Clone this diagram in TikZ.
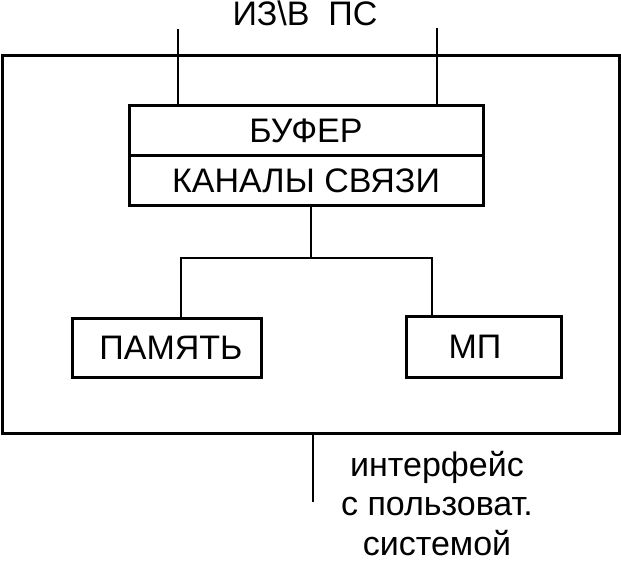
\documentclass[tikz,border=0pt]{standalone}
\usepackage{fontspec}
\setmainfont{Liberation Sans}
\usepackage{tikz}
\usetikzlibrary{positioning,calc}

\begin{document}
\begin{tikzpicture}[
				x=1pt,y=-1pt,
				line cap=butt,line join=miter,
				font=\fontsize{34}{39.5}\selectfont,
				blok/.style={draw=black, line width=3pt, rectangle, inner sep=0pt, outer sep=0pt},
				wire/.style={black, line width=2.8pt},
				thin/.style={black, line width=2pt}
				]
				% ---- parameters
				\def\bufW{354}      % buffer width
				\def\rowH{50}       % buffer row height
				
				% frame of picture
				\useasboundingbox (0,0) rectangle (621,562);
				
				% outer border (system)
				\node[blok, minimum width=617pt, minimum height=378.5pt] (sys) at (310.5,244.25) {};
				
				% buffer + channels
				\node[blok, minimum width=\bufW pt, minimum height=\rowH pt] (buf) at (306,130.5) {БУФЕР};
				\node[blok, minimum width=\bufW pt, minimum height=\rowH pt, below=0pt of buf] (kan) {КАНАЛЫ СВЯЗИ};
				
				% memory and processor
				\node[blok, minimum width=189pt, minimum height=59pt] (mem) at (167,347.5) {\hspace*{8pt}ПАМЯТЬ};
				\node[blok, minimum width=155pt, minimum height=61pt] (mp) at (484,346.5) {МП\hspace*{18pt}};
				
				% texts outside
				\node[anchor=base] (iz) at (305,25.5) {ИЗ\textbackslash В\ \ ПС};
				\node[anchor=base, align=center, inner sep=0pt] (ifctext) at (437,555) {интерфейс\\с пользоват.\\системой};
				
				% free ends
				\coordinate (izL) at (178,29);
				\coordinate (izR) at (437,28);
				\coordinate (bus) at (311,258);
				\coordinate (busL) at (181,258);
				\coordinate (busR) at (432,258);
				\coordinate (ifc) at (313,502);
				
				% input lines
				\draw[wire] (izL) -- (buf.north -| izL);
				\draw[wire] (izR) -- (buf.north -| izR);
				
				% bus
				\draw[wire] (kan.south -| bus) -- (bus);
				\draw[wire] (mem.north -| busL) |- (busR) -- (mp.north -| busR);
				
				% interface line
				\draw[thin] (sys.south -| ifc) -- (ifc);
			\end{tikzpicture}
\end{document}
